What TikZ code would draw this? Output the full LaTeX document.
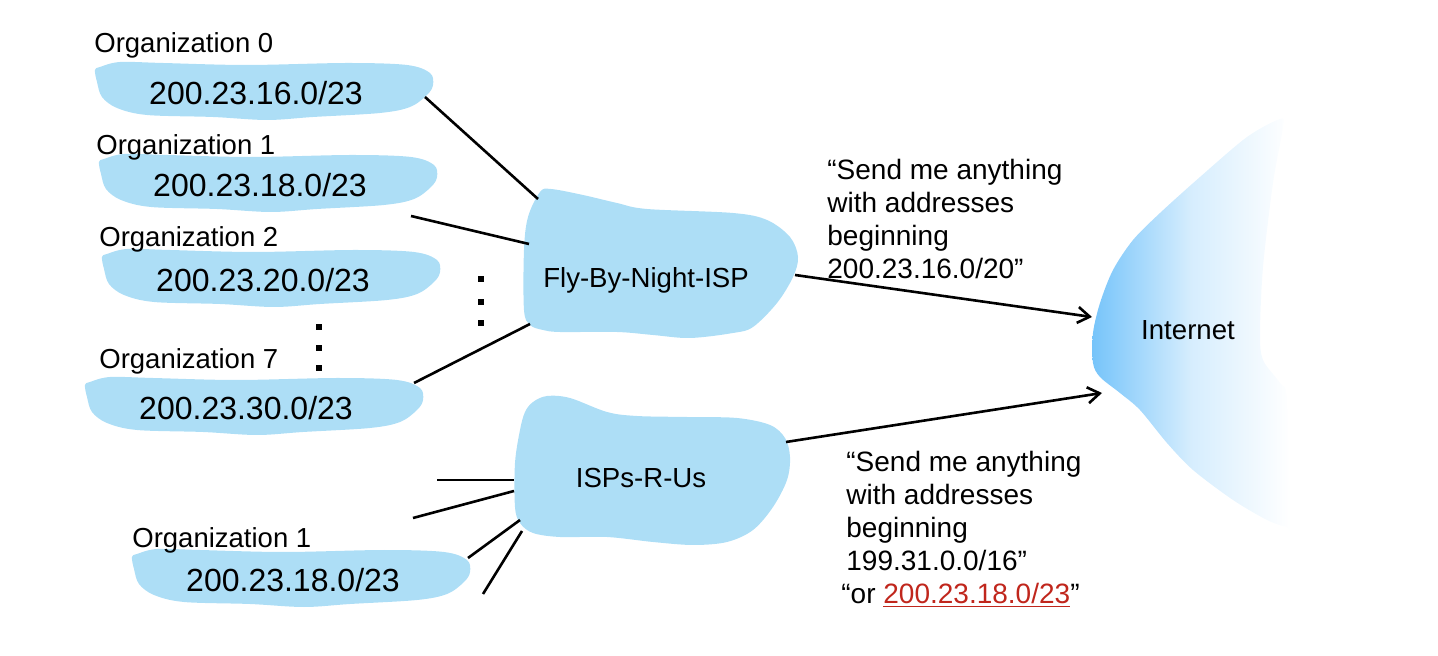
\documentclass[tikz,border=0pt]{standalone}
\usepackage{fontspec}
\setmainfont{Liberation Sans}
\usetikzlibrary{positioning}
\usetikzlibrary{arrows.meta}

\definecolor{lanblue}{RGB}{173,222,246}
\definecolor{netblue}{RGB}{118,196,250}
\definecolor{quotered}{RGB}{192,38,28}

\begin{document}
\begin{tikzpicture}[x=0.5pt,y=-0.5pt,
		orgname/.style={anchor=base west,inner sep=0pt,font=\fontsize{13.75}{16}\selectfont},
		addrtext/.style={inner sep=0pt,text depth=0pt,font=\fontsize{16}{19}\selectfont},
		ispname/.style={inner sep=0pt,text depth=0pt,font=\fontsize{13.8}{16}\selectfont},
		announce/.style={anchor=north west,inner sep=0pt,align=left,font=\fontsize{14}{16.5}\selectfont},
		wire/.style={line width=1.3pt},
		route/.style={line width=1.3pt,-{Straight Barb[length=6pt,width=8pt]}}]
		\useasboundingbox (0,0) rectangle (1438,656);

		\foreach \nm/\cx/\cy/\addr in {org0/256/93/200.23.16.0, org1/260/185/200.23.18.0, org2/263/280/200.23.20.0, org7/246/408/200.23.30.0, orgb/293/580/200.23.18.0}{
			\fill[lanblue,shift={(\cx,\cy)}] plot[smooth cycle,tension=0.55] coordinates {(-161,-23) (-156,-26) (-136,-31) (-93,-30) (-9,-28) (91,-30) (151,-28) (174,-20) (177,-8) (171,2) (154,14) (124,20) (57,24) (11,27) (-43,24) (-109,22) (-139,15) (-154,4) (-159,-11)};
			\node[addrtext] (\nm) at (\cx,\cy) {\addr/23};
		}
		\node[orgname] (org0name) at (94,53) {Organization 0};
		\node[orgname] (org1name) at (96,155) {Organization 1};
		\node[orgname] (org2name) at (99,247) {Organization 2};
		\node[orgname] (org7name) at (99,369) {Organization 7};
		\node[orgname] (orgbname) at (132,547) {Organization 1};

		\foreach \y in {327,348,368} \fill (316,\y-3) rectangle ++(6,6);
		\foreach \y in {279,302,323} \fill (478,\y-3) rectangle ++(6,6);

		\fill[lanblue,shift={(646,278)}] plot[smooth cycle,tension=0.55] coordinates {(-95,-89) (-63,-83) (-29,-75) (1,-69) (87,-65) (121,-58) (144,-41) (152,-21) (147,-1) (131,25) (107,49) (87,55) (44,60) (7,57) (-29,54) (-86,54) (-103,52) (-116,47) (-122,32) (-122,-28) (-118,-61) (-106,-86)};
		\node[ispname] (fbn) at (646,278) {Fly-By-Night-ISP};

		\fill[lanblue,shift={(641,478)}] plot[smooth cycle,tension=0.55] coordinates {(-108,-76) (-94,-82) (-71,-80) (-34,-66) (-4,-62) (46,-61) (96,-60) (129,-53) (144,-40) (149,-21) (146,2) (132,29) (112,52) (86,64) (52,67) (12,64) (-34,59) (-81,59) (-108,55) (-121,45) (-126,29) (-126,-15) (-121,-48) (-116,-66)};
		\node[ispname] (isp) at (641,478) {ISPs-R-Us};

		\shade[left color=netblue,right color=white,middle color=netblue!30,shift={(1188,330)}] plot[smooth cycle,tension=0.5] coordinates {(92,-211) (59,-193) (12,-153) (-28,-117) (-55,-90) (-75,-60) (-88,-27) (-95,3) (-95,33) (-88,47) (-68,63) (-48,80) (-21,113) (5,140) (45,170) (79,190) (99,197) (102,193) (99,70) (92,53) (75,30) (72,3) (75,-63) (85,-147) (95,-203)};
		\node[ispname] (inet) at (1188,330) {Internet};

		\coordinate (stub1) at (437,480);
		\coordinate (stub2) at (413,518);
		\coordinate (stub3) at (483,594);

		\draw[wire] ([shift={(169,4)}]org0.center) -- ([shift={(-108,-79)}]fbn.center);
		\draw[wire] ([shift={(151,31)}]org1.center) -- ([shift={(-117,-34)}]fbn.center);
		\draw[wire] ([shift={(168,-25)}]org7.center) -- ([shift={(-116,46)}]fbn.center);
		\draw[wire] (stub1) -- ([shift={(-127,2)}]isp.center);
		\draw[wire] (stub2) -- ([shift={(-127,13)}]isp.center);
		\draw[wire] ([shift={(175,-22)}]orgb.center) -- ([shift={(-121,42)}]isp.center);
		\draw[wire] (stub3) -- ([shift={(-119,53)}]isp.center);
		\draw[route] ([shift={(149,-3)}]fbn.center) -- ([shift={(-96,-13)}]inet.center);
		\draw[route] ([shift={(145,-36)}]isp.center) -- ([shift={(-86,63)}]inet.center);

		\node[announce] (fbnmsg) at (827,159) {“Send me anything\\with addresses\\beginning\\200.23.16.0/20”};
		\node[announce] (ispmsg) at (846,451) {“Send me anything\\with addresses\\beginning\\199.31.0.0/16”\\\hspace*{-2.5pt}“or \textcolor{quotered}{\underline{200.23.18.0/23}}”};
	\end{tikzpicture}
\end{document}
